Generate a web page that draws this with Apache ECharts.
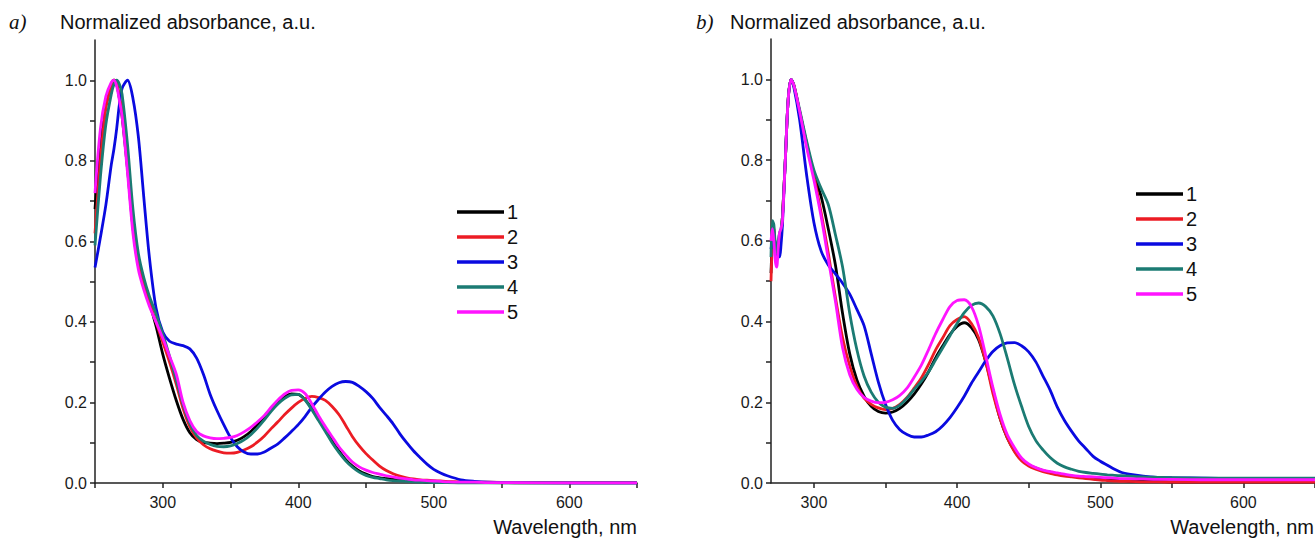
<!DOCTYPE html>
<html>
<head>
<meta charset="utf-8">
<script src="https://cdn.jsdelivr.net/npm/echarts@6/dist/echarts.min.js"></script>
<style>
html,body{margin:0;padding:0;background:#fff;}
#chart{width:1315px;height:539px;}
</style>
</head>
<body>
<div id="chart"></div>
<script>
// ---------- Panel a data ----------
const wlA = [250,254,258,262,264,266,268,270,274,278,
  282,286,290,295,300,305,310,315,320,325,
  330,335,340,345,350,355,360,365,370,375,
  380,385,390,395,400,405,410,415,420,425,
  430,435,440,445,450,455,460,465,470,475,
  480,485,490,495,500,505,510,520,530,540,
  560,600,650];
const a1 = [0.68,0.85,0.95,0.99,1.0,0.99,0.955,0.91,0.78,0.635,
  0.54,0.49,0.45,0.39,0.32,0.26,0.205,0.158,0.125,0.108,
  0.101,0.099,0.098,0.099,0.101,0.106,0.115,0.128,0.145,0.165,
  0.185,0.203,0.215,0.221,0.22,0.207,0.185,0.16,0.133,0.105,
  0.08,0.058,0.042,0.03,0.022,0.016,0.013,0.011,0.009,0.007,
  0.006,0.005,0.004,0.003,0.003,0.002,0.002,0.001,0.001,0.001,
  0.0,0.0,0.0];
const a2 = [0.62,0.80,0.93,0.985,1.0,0.99,0.96,0.92,0.79,0.65,
  0.55,0.49,0.45,0.40,0.35,0.30,0.245,0.185,0.14,0.112,
  0.095,0.085,0.079,0.075,0.074,0.076,0.082,0.09,0.102,0.117,
  0.135,0.152,0.17,0.186,0.2,0.21,0.215,0.212,0.205,0.19,
  0.17,0.143,0.115,0.092,0.073,0.057,0.042,0.031,0.023,0.017,
  0.013,0.01,0.008,0.007,0.006,0.005,0.004,0.003,0.002,0.002,
  0.001,0.001,0.001];
const a3 = [0.535,0.61,0.69,0.79,0.83,0.88,0.94,0.98,1.0,0.955,
  0.86,0.71,0.565,0.435,0.375,0.352,0.345,0.341,0.333,0.31,
  0.27,0.22,0.18,0.145,0.113,0.09,0.077,0.072,0.072,0.077,
  0.087,0.097,0.112,0.128,0.145,0.165,0.188,0.208,0.226,0.24,
  0.249,0.252,0.25,0.24,0.227,0.21,0.188,0.168,0.147,0.122,
  0.1,0.08,0.063,0.047,0.034,0.025,0.018,0.008,0.004,0.002,
  0.001,0.0,0.0];
const a4 = [0.59,0.76,0.89,0.965,0.99,1.0,0.99,0.965,0.84,0.68,
  0.57,0.51,0.465,0.42,0.37,0.315,0.255,0.195,0.148,0.118,
  0.104,0.096,0.091,0.09,0.092,0.098,0.107,0.12,0.137,0.157,
  0.178,0.196,0.21,0.219,0.22,0.206,0.182,0.155,0.128,0.1,
  0.076,0.055,0.039,0.027,0.019,0.014,0.011,0.008,0.006,0.005,
  0.004,0.003,0.002,0.002,0.001,0.001,0.001,0.0,0.0,0.0,
  0.0,0.0,0.0];
const a5 = [0.72,0.88,0.96,0.995,1.0,0.985,0.95,0.91,0.77,0.62,
  0.53,0.48,0.44,0.40,0.36,0.315,0.27,0.2,0.155,0.128,
  0.117,0.112,0.11,0.111,0.113,0.118,0.127,0.138,0.152,0.168,
  0.188,0.206,0.221,0.23,0.231,0.222,0.197,0.167,0.14,0.115,
  0.09,0.07,0.052,0.04,0.032,0.026,0.022,0.018,0.015,0.012,
  0.01,0.008,0.007,0.006,0.005,0.004,0.003,0.002,0.002,0.001,
  0.001,0.0,0.0];

// ---------- Panel b data ----------
const wlB = [270,271,272,273,274,275,276,277,278,280,282,284,286,290,
  295,300,305,310,315,320,325,330,335,340,
  345,350,355,360,365,370,375,380,385,390,
  395,400,405,410,415,420,425,430,435,440,
  445,450,455,460,465,470,475,480,485,490,
  495,500,505,510,515,520,530,540,550,575,600,625,650];
const b1 = [0.52,0.60,0.62,0.58,0.55,0.57,0.60,0.62,0.66,0.80,0.95,1.00,0.985,0.92,
  0.84,0.765,0.71,0.63,0.54,0.42,0.32,0.255,0.215,0.19,
  0.177,0.173,0.176,0.185,0.20,0.22,0.245,0.275,0.31,0.34,
  0.368,0.388,0.397,0.385,0.355,0.30,0.23,0.16,0.112,0.08,
  0.058,0.045,0.037,0.031,0.027,0.023,0.02,0.017,0.015,0.013,
  0.011,0.009,0.008,0.007,0.006,0.005,0.004,0.004,0.003,0.003,0.003,0.003,0.003];
const b2 = [0.50,0.60,0.63,0.58,0.55,0.58,0.60,0.62,0.66,0.80,0.95,1.00,0.985,0.92,
  0.835,0.76,0.67,0.57,0.46,0.36,0.29,0.24,0.21,0.195,
  0.186,0.182,0.185,0.195,0.212,0.235,0.26,0.293,0.33,0.36,
  0.39,0.405,0.412,0.395,0.36,0.30,0.222,0.16,0.112,0.078,
  0.055,0.042,0.034,0.028,0.024,0.02,0.017,0.015,0.013,0.011,
  0.009,0.007,0.006,0.005,0.004,0.004,0.003,0.003,0.002,0.002,0.002,0.002,0.002];
const b3 = [0.58,0.60,0.61,0.59,0.57,0.56,0.56,0.59,0.64,0.80,0.95,1.00,0.98,0.90,
  0.76,0.645,0.575,0.54,0.518,0.495,0.468,0.43,0.39,0.32,
  0.25,0.195,0.155,0.132,0.12,0.114,0.114,0.119,0.127,0.142,
  0.162,0.187,0.215,0.247,0.275,0.303,0.326,0.34,0.347,0.348,
  0.34,0.325,0.3,0.265,0.23,0.188,0.155,0.128,0.104,0.085,
  0.066,0.054,0.044,0.034,0.026,0.022,0.017,0.014,0.013,0.012,0.011,0.011,0.011];
const b4 = [0.56,0.65,0.64,0.59,0.57,0.60,0.62,0.63,0.66,0.80,0.95,1.00,0.985,0.925,
  0.845,0.775,0.73,0.69,0.615,0.535,0.42,0.33,0.265,0.225,
  0.2,0.188,0.185,0.193,0.21,0.232,0.252,0.275,0.305,0.335,
  0.365,0.395,0.422,0.44,0.446,0.437,0.414,0.37,0.31,0.245,
  0.19,0.14,0.105,0.082,0.063,0.049,0.04,0.034,0.029,0.026,
  0.024,0.022,0.02,0.019,0.018,0.017,0.015,0.014,0.013,0.012,0.012,0.012,0.012];
const b5 = [0.60,0.63,0.60,0.55,0.535,0.58,0.62,0.63,0.65,0.80,0.95,1.00,0.985,0.92,
  0.83,0.75,0.66,0.555,0.45,0.335,0.268,0.232,0.212,0.203,
  0.199,0.2,0.206,0.217,0.235,0.262,0.292,0.33,0.37,0.405,
  0.437,0.452,0.454,0.437,0.39,0.315,0.237,0.17,0.12,0.088,
  0.062,0.047,0.038,0.032,0.028,0.025,0.022,0.019,0.017,0.016,
  0.015,0.014,0.013,0.012,0.011,0.011,0.01,0.009,0.009,0.008,0.008,0.008,0.008];

// ---------- labels & ticks ----------
const seriesNames = ['1','2','3','4','5'];
const colors = ['#000000','#ec1c24','#0a0ae0','#1b7b73','#ff14ff'];
const yLabels = [0,0.2,0.4,0.6,0.8,1.0];
const yTicks = [0,0.1,0.2,0.3,0.4,0.5,0.6,0.7,0.8,0.9,1.0];
const xLabels = [300,400,500,600];
const xTicksA = [250,300,350,400,450,500,550,600,650];
const xTicksB = [300,350,400,450,500,550,600,650];
const yTitle = 'Normalized absorbance, a.u.';
const xTitle = 'Wavelength, nm';

const FONT = 'Liberation Sans, Arial, sans-serif';
const chart = echarts.init(document.getElementById('chart'), null, {renderer:'svg'});

function yAxis(gi){
  return {type:'value', gridIndex:gi, min:0, max:1.1,
    axisLine:{show:true, lineStyle:{color:'#222', width:1.5}},
    axisTick:{show:true, length:5, customValues:yTicks, lineStyle:{color:'#222', width:1.5}},
    axisLabel:{customValues:yLabels, formatter:v=>v.toFixed(1), color:'#1a1a1a', fontSize:16, fontFamily:FONT, margin:8},
    splitLine:{show:false}};
}
function xAxis(gi, min, ticks){
  return {type:'value', gridIndex:gi, min:min, max:650,
    axisLine:{show:true, onZero:false, lineStyle:{color:'#222', width:1.5}},
    axisTick:{show:true, length:5, customValues:ticks, lineStyle:{color:'#222', width:1.5}},
    axisLabel:{customValues:xLabels, color:'#1a1a1a', fontSize:16, fontFamily:FONT, margin:11},
    splitLine:{show:false}};
}
function mk(gi, wl, ys, k){
  return {type:'line', name:seriesNames[k], xAxisIndex:gi, yAxisIndex:gi,
    data: wl.map((x,i)=>[x, ys[i]]), symbol:'none', smooth:0.3,
    lineStyle:{width:2.8, color:colors[k]}, itemStyle:{color:colors[k]},
    emphasis:{disabled:true}, animation:false, z:2+k};
}
function legend(left, top){
  return {orient:'vertical', left:left, top:top, icon:'rect', itemWidth:47, itemHeight:3.5, itemGap:5,
    data:seriesNames, textStyle:{fontSize:20, lineHeight:20, fontFamily:FONT, color:'#111', padding:[0,0,0,-2]},
    selectedMode:false};
}
function txt(x, y, s, opt){
  return Object.assign({type:'text', x:x, y:y, style:Object.assign({text:s, fill:'#111',
    font:'20px ' + FONT, textVerticalAlign:'middle'}, opt||{})});
}

chart.setOption({
  backgroundColor:'#ffffff',
  animation:false,
  grid:[{left:95, top:40, width:542, height:443},
        {left:771, top:39, width:544, height:444}],
  xAxis:[xAxis(0,250,xTicksA), xAxis(1,270,xTicksB)],
  yAxis:[yAxis(0), yAxis(1)],
  legend:[legend(452,197), legend(1131,179)],
  series:[0,1,2,3,4].map(k=>mk(0,wlA,[a1,a2,a3,a4,a5][k],k))
    .concat([0,1,2,3,4].map(k=>mk(1,wlB,[b1,b2,b3,b4,b5][k],k))),
  graphic:[
    txt(9, 22, 'a)', {font:'italic 21px Liberation Serif, serif'}),
    txt(60, 22, yTitle),
    txt(637, 527, xTitle, {textAlign:'right'}),
    txt(696, 22, 'b)', {font:'italic 21px Liberation Serif, serif'}),
    txt(730, 22, yTitle),
    txt(1314, 527, xTitle, {textAlign:'right'})
  ]
});
</script>
</body>
</html>
